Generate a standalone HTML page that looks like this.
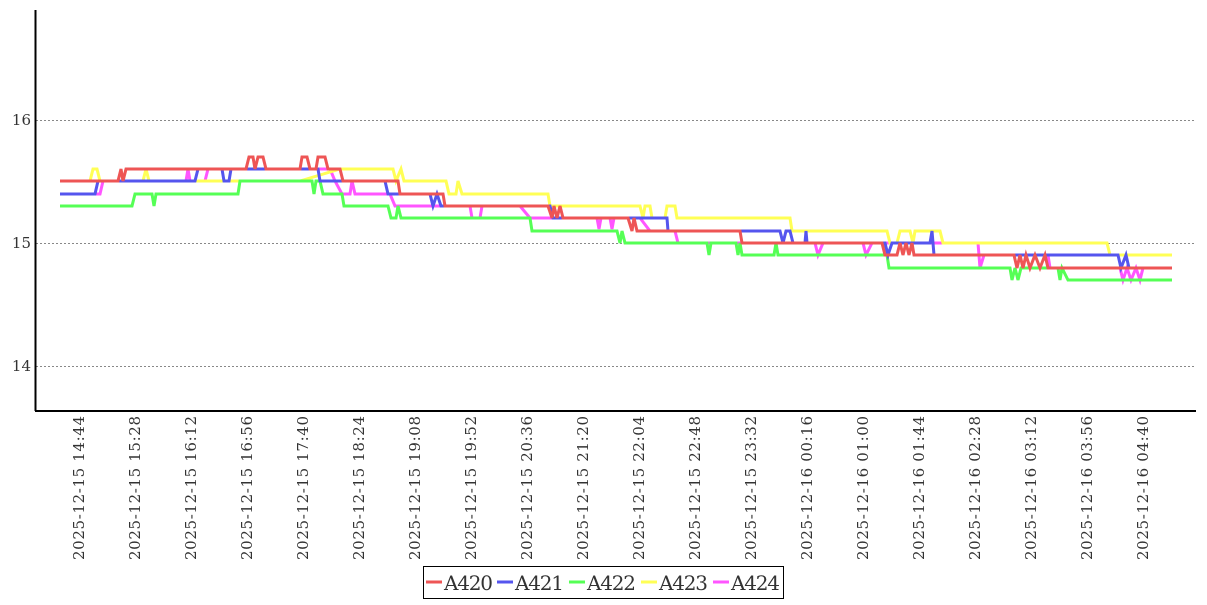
<!DOCTYPE html>
<html><head><meta charset="utf-8"><style>
body{margin:0;background:#fff;width:1207px;height:600px;overflow:hidden}
svg text{font-family:"DejaVu Serif","Liberation Serif",serif;fill:#333}
</style></head><body>
<svg width="1207" height="600" viewBox="0 0 1207 600" xmlns="http://www.w3.org/2000/svg">
<g stroke="#888" stroke-width="1" stroke-dasharray="2,2">
<line x1="36" y1="120.5" x2="1195" y2="120.5"/>
<line x1="36" y1="243.5" x2="1195" y2="243.5"/>
<line x1="36" y1="366.5" x2="1195" y2="366.5"/>
</g>
<g font-size="15" text-anchor="end">
<text x="31" y="125">16</text><text x="31" y="248">15</text><text x="31" y="371">14</text>
</g>
<g fill="none" stroke-width="3" stroke-linejoin="miter">
<polyline stroke="#ff55ff" points="60,194 100,194 103,181 120,181 186,181 188,169 190,181 205,181 208,169 330,169 335,181 342,194 350,194 352,181 355,194 390,194 395,206 470,206 472,218 480,218 482,206 510,206 520,206 530,218 550,218 597,218 599,229 601,218 610,218 612,229 614,218 640,218 650,231 675,231 678,243 815,243 818,255 823,243 863,243 866,255 872,243 978,243 980,268 984,255 1048,255 1050,268 1120,268 1123,280 1127,268 1131,280 1136,268 1140,280 1143,268 1160,268"/>
<polyline stroke="#ffff55" points="60,181 90,181 93,169 97,169 100,181 143,181 146,169 149,181 300,181 340,169 393,169 396,181 401,169 404,181 446,181 449,194 456,194 458,181 462,194 548,194 550,206 640,206 643,218 645,206 650,206 652,218 665,218 667,206 675,206 677,218 790,218 792,231 887,231 890,243 897,243 900,231 910,231 913,243 915,231 940,231 943,243 1107,243 1110,255 1172,255"/>
<polyline stroke="#55ff55" points="60,206 132,206 135,194 152,194 154,206 156,194 238,194 240,181 312,181 314,194 316,181 320,181 323,194 342,194 344,206 388,206 391,218 396,218 398,206 401,218 530,218 532,231 617,231 620,243 622,231 625,243 707,243 709,255 711,243 736,243 738,255 740,243 742,255 774,255 776,243 778,255 887,255 889,268 1010,268 1012,280 1015,268 1018,280 1021,268 1058,268 1060,280 1062,268 1068,280 1172,280"/>
<polyline stroke="#5555ee" points="60,194 95,194 98,181 195,181 198,169 222,169 224,181 229,181 231,169 318,169 320,181 385,181 388,194 430,194 433,206 437,194 441,206 550,206 553,218 638,218 667,218 668,231 780,231 783,243 786,231 790,231 793,243 805,243 806,231 807,243 885,243 888,255 892,243 930,243 932,231 934,255 1118,255 1121,268 1126,255 1129,268 1172,268"/>
<polyline stroke="#ee5555" points="60,181 118,181 121,169 123,181 126,169 246,169 249,157 253,157 255,169 258,157 263,157 266,169 300,169 302,157 307,157 310,169 316,169 318,157 325,157 328,169 340,169 343,181 398,181 400,194 443,194 445,206 548,206 552,218 554,206 557,218 560,206 563,218 628,218 632,231 634,218 637,231 740,231 742,243 882,243 885,255 897,255 900,243 903,255 906,243 909,255 912,243 914,255 1014,255 1017,268 1020,255 1023,268 1026,255 1030,268 1035,255 1040,268 1045,255 1048,268 1172,268"/>
</g>
<line x1="35.5" y1="10" x2="35.5" y2="411" stroke="#000" stroke-width="2"/>
<line x1="35" y1="411" x2="1196" y2="411" stroke="#000" stroke-width="2"/>
<g font-size="15">
<g transform="translate(84,560) rotate(-90)"><text textLength="144" lengthAdjust="spacing">2025-12-15  14:44</text></g>
<g transform="translate(140,560) rotate(-90)"><text textLength="144" lengthAdjust="spacing">2025-12-15  15:28</text></g>
<g transform="translate(196,560) rotate(-90)"><text textLength="144" lengthAdjust="spacing">2025-12-15  16:12</text></g>
<g transform="translate(252,560) rotate(-90)"><text textLength="144" lengthAdjust="spacing">2025-12-15  16:56</text></g>
<g transform="translate(308,560) rotate(-90)"><text textLength="144" lengthAdjust="spacing">2025-12-15  17:40</text></g>
<g transform="translate(364,560) rotate(-90)"><text textLength="144" lengthAdjust="spacing">2025-12-15  18:24</text></g>
<g transform="translate(420,560) rotate(-90)"><text textLength="144" lengthAdjust="spacing">2025-12-15  19:08</text></g>
<g transform="translate(476,560) rotate(-90)"><text textLength="144" lengthAdjust="spacing">2025-12-15  19:52</text></g>
<g transform="translate(532,560) rotate(-90)"><text textLength="144" lengthAdjust="spacing">2025-12-15  20:36</text></g>
<g transform="translate(588,560) rotate(-90)"><text textLength="144" lengthAdjust="spacing">2025-12-15  21:20</text></g>
<g transform="translate(644,560) rotate(-90)"><text textLength="144" lengthAdjust="spacing">2025-12-15  22:04</text></g>
<g transform="translate(700,560) rotate(-90)"><text textLength="144" lengthAdjust="spacing">2025-12-15  22:48</text></g>
<g transform="translate(756,560) rotate(-90)"><text textLength="144" lengthAdjust="spacing">2025-12-15  23:32</text></g>
<g transform="translate(812,560) rotate(-90)"><text textLength="144" lengthAdjust="spacing">2025-12-16  00:16</text></g>
<g transform="translate(868,560) rotate(-90)"><text textLength="144" lengthAdjust="spacing">2025-12-16  01:00</text></g>
<g transform="translate(924,560) rotate(-90)"><text textLength="144" lengthAdjust="spacing">2025-12-16  01:44</text></g>
<g transform="translate(980,560) rotate(-90)"><text textLength="144" lengthAdjust="spacing">2025-12-16  02:28</text></g>
<g transform="translate(1036,560) rotate(-90)"><text textLength="144" lengthAdjust="spacing">2025-12-16  03:12</text></g>
<g transform="translate(1092,560) rotate(-90)"><text textLength="144" lengthAdjust="spacing">2025-12-16  03:56</text></g>
<g transform="translate(1148,560) rotate(-90)"><text textLength="144" lengthAdjust="spacing">2025-12-16  04:40</text></g>
</g>
<rect x="423.5" y="566.5" width="360" height="32" fill="#fff" stroke="#000" stroke-width="1"/>
<g stroke-width="3">
<line x1="426" y1="582" x2="442" y2="582" stroke="#ee5555"/>
<line x1="497" y1="582" x2="513" y2="582" stroke="#5555ee"/>
<line x1="569" y1="582" x2="585" y2="582" stroke="#55ff55"/>
<line x1="641" y1="582" x2="657" y2="582" stroke="#ffff55"/>
<line x1="713" y1="582" x2="729" y2="582" stroke="#ff55ff"/>
</g>
<g font-size="20">
<text x="444" y="590" textLength="49">A420</text>
<text x="515" y="590" textLength="49">A421</text>
<text x="587" y="590" textLength="49">A422</text>
<text x="659" y="590" textLength="49">A423</text>
<text x="731" y="590" textLength="49">A424</text>
</g>
</svg>
</body></html>
